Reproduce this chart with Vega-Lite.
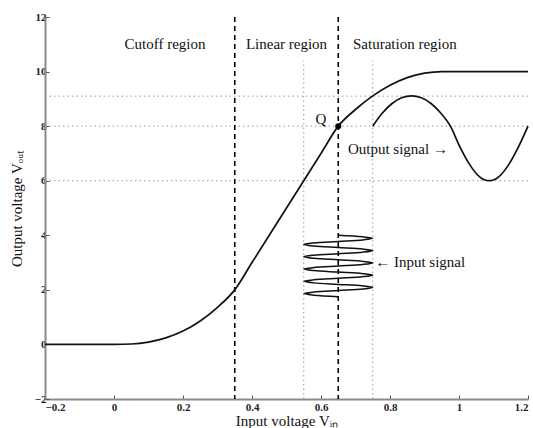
{
  "$schema": "https://vega.github.io/schema/vega-lite/v6.json",
  "width": 483,
  "height": 382,
  "autosize": {"type": "none"},
  "padding": {"left": 45, "top": 17, "right": 5, "bottom": 29},
  "background": "white",
  "config": {
    "view": {"stroke": null},
    "font": "Liberation Serif",
    "axis": {
      "grid": false,
      "domainColor": "#8a8a8a",
      "domainWidth": 2,
      "tickColor": "#555",
      "tickSize": -4,
      "labelFont": "Liberation Serif",
      "labelFontSize": 11,
      "labelFontWeight": "bold",
      "labelColor": "#222",
      "titleFont": "Liberation Serif",
      "titleFontSize": 15,
      "titleFontWeight": "normal",
      "titleColor": "#111"
    }
  },
  "layer": [
    {
      "data": {"values": [{"y": 6}, {"y": 8}, {"y": 9.1}]},
      "mark": {"type": "rule", "color": "#999", "strokeDash": [1.5, 3], "strokeWidth": 1},
      "encoding": {
        "y": {"field": "y", "type": "quantitative", "scale": {"domain": [-2, 12], "nice": false, "zero": false},
              "axis": {"values": [-2, 0, 2, 4, 6, 8, 10, 12], "format": "~g", "title": "Output voltage Vₒᵤₜ", "titlePadding": 10, "labelPadding": 3}}
      }
    },
    {
      "data": {"values": [{"x": 0.55, "y": -2, "y2": 10.4}, {"x": 0.75, "y": -2, "y2": 10.4}]},
      "mark": {"type": "rule", "color": "#999", "strokeDash": [1.5, 3], "strokeWidth": 1},
      "encoding": {
        "x": {"field": "x", "type": "quantitative"},
        "y": {"field": "y", "type": "quantitative"},
        "y2": {"field": "y2"}
      }
    },
    {
      "data": {"values": [{"x": 0.35}, {"x": 0.65}]},
      "mark": {"type": "rule", "color": "#000", "strokeDash": [5, 4], "strokeWidth": 1.6},
      "encoding": {
        "x": {"field": "x", "type": "quantitative", "scale": {"domain": [-0.2, 1.2], "nice": false, "zero": false},
              "axis": {"values": [-0.2, 0, 0.2, 0.4, 0.6, 0.8, 1, 1.2], "format": "~g", "title": "Input voltage Vᵢₙ", "titlePadding": 1, "labelPadding": 6}}
      }
    },
    {
      "data": {"values": [
        {"x": -0.2, "y": 0}, {"x": 0, "y": 0}, {"x": 0.05, "y": 0.015}, {"x": 0.1, "y": 0.087},
        {"x": 0.15, "y": 0.24}, {"x": 0.2, "y": 0.49}, {"x": 0.25, "y": 0.86}, {"x": 0.3, "y": 1.36},
        {"x": 0.35, "y": 2}, {"x": 0.4, "y": 3}, {"x": 0.5, "y": 5}, {"x": 0.6, "y": 7}, {"x": 0.65, "y": 8},
        {"x": 0.7, "y": 8.61}, {"x": 0.75, "y": 9.11}, {"x": 0.8, "y": 9.5}, {"x": 0.85, "y": 9.78},
        {"x": 0.9, "y": 9.94}, {"x": 0.95, "y": 10}, {"x": 1.2, "y": 10}
      ]},
      "mark": {"type": "line", "color": "#111", "strokeWidth": 1.7, "interpolate": "monotone"},
      "encoding": {
        "x": {"field": "x", "type": "quantitative"},
        "y": {"field": "y", "type": "quantitative"}
      }
    },
    {
      "data": {"values": [
        {"x": 0.75, "y": 8}, {"x": 0.778, "y": 8.48}, {"x": 0.806, "y": 8.83}, {"x": 0.834, "y": 9.04},
        {"x": 0.8625, "y": 9.11}, {"x": 0.891, "y": 9.04}, {"x": 0.919, "y": 8.83}, {"x": 0.947, "y": 8.48},
        {"x": 0.975, "y": 8}, {"x": 1.003, "y": 7.23}, {"x": 1.031, "y": 6.59}, {"x": 1.059, "y": 6.15},
        {"x": 1.0875, "y": 6}, {"x": 1.116, "y": 6.15}, {"x": 1.144, "y": 6.59}, {"x": 1.172, "y": 7.23},
        {"x": 1.2, "y": 8}
      ]},
      "mark": {"type": "line", "color": "#111", "strokeWidth": 1.7, "interpolate": "monotone"},
      "encoding": {
        "x": {"field": "x", "type": "quantitative"},
        "y": {"field": "y", "type": "quantitative"}
      }
    },
    {
      "data": {"values": [
        {"i": 0, "x": 0.65, "y": 4}, {"i": 1, "x": 0.7207, "y": 3.944}, {"i": 2, "x": 0.75, "y": 3.8875}, {"i": 3, "x": 0.7207, "y": 3.831},
        {"i": 4, "x": 0.65, "y": 3.775}, {"i": 5, "x": 0.5793, "y": 3.719}, {"i": 6, "x": 0.55, "y": 3.6625}, {"i": 7, "x": 0.5793, "y": 3.606},
        {"i": 8, "x": 0.65, "y": 3.55}, {"i": 9, "x": 0.7207, "y": 3.494}, {"i": 10, "x": 0.75, "y": 3.4375}, {"i": 11, "x": 0.7207, "y": 3.381},
        {"i": 12, "x": 0.65, "y": 3.325}, {"i": 13, "x": 0.5793, "y": 3.269}, {"i": 14, "x": 0.55, "y": 3.2125}, {"i": 15, "x": 0.5793, "y": 3.156},
        {"i": 16, "x": 0.65, "y": 3.1}, {"i": 17, "x": 0.7207, "y": 3.044}, {"i": 18, "x": 0.75, "y": 2.9875}, {"i": 19, "x": 0.7207, "y": 2.931},
        {"i": 20, "x": 0.65, "y": 2.875}, {"i": 21, "x": 0.5793, "y": 2.819}, {"i": 22, "x": 0.55, "y": 2.7625}, {"i": 23, "x": 0.5793, "y": 2.706},
        {"i": 24, "x": 0.65, "y": 2.65}, {"i": 25, "x": 0.7207, "y": 2.594}, {"i": 26, "x": 0.75, "y": 2.5375}, {"i": 27, "x": 0.7207, "y": 2.481},
        {"i": 28, "x": 0.65, "y": 2.425}, {"i": 29, "x": 0.5793, "y": 2.369}, {"i": 30, "x": 0.55, "y": 2.3125}, {"i": 31, "x": 0.5793, "y": 2.256},
        {"i": 32, "x": 0.65, "y": 2.2}, {"i": 33, "x": 0.7207, "y": 2.144}, {"i": 34, "x": 0.75, "y": 2.0875}, {"i": 35, "x": 0.7207, "y": 2.031},
        {"i": 36, "x": 0.65, "y": 1.975}, {"i": 37, "x": 0.5793, "y": 1.919}, {"i": 38, "x": 0.55, "y": 1.8625}, {"i": 39, "x": 0.5793, "y": 1.806},
        {"i": 40, "x": 0.65, "y": 1.75}
      ]},
      "mark": {"type": "line", "color": "#111", "strokeWidth": 1.5, "interpolate": "catmull-rom"},
      "encoding": {
        "x": {"field": "x", "type": "quantitative"},
        "y": {"field": "y", "type": "quantitative"},
        "order": {"field": "i", "type": "quantitative"}
      }
    },
    {
      "data": {"values": [{"x": 0.65, "y": 8}]},
      "mark": {"type": "point", "filled": true, "color": "#000", "size": 36, "opacity": 1},
      "encoding": {
        "x": {"field": "x", "type": "quantitative"},
        "y": {"field": "y", "type": "quantitative"}
      }
    },
    {
      "data": {"values": [
        {"x": 0.148, "y": 11, "label": "Cutoff region"},
        {"x": 0.5, "y": 11, "label": "Linear region"},
        {"x": 0.843, "y": 11, "label": "Saturation region"},
        {"x": 0.6, "y": 8.25, "label": "Q"}
      ]},
      "mark": {"type": "text", "font": "Liberation Serif", "fontSize": 15, "color": "#111", "align": "center", "baseline": "middle"},
      "encoding": {
        "x": {"field": "x", "type": "quantitative"},
        "y": {"field": "y", "type": "quantitative"},
        "text": {"field": "label"}
      }
    },
    {
      "data": {"values": [
        {"x": 0.678, "y": 7.15, "label": "Output signal →"},
        {"x": 0.757, "y": 3.02, "label": "← Input signal"}
      ]},
      "mark": {"type": "text", "font": "Liberation Serif", "fontSize": 15, "color": "#111", "align": "left", "baseline": "middle"},
      "encoding": {
        "x": {"field": "x", "type": "quantitative"},
        "y": {"field": "y", "type": "quantitative"},
        "text": {"field": "label"}
      }
    }
  ]
}
